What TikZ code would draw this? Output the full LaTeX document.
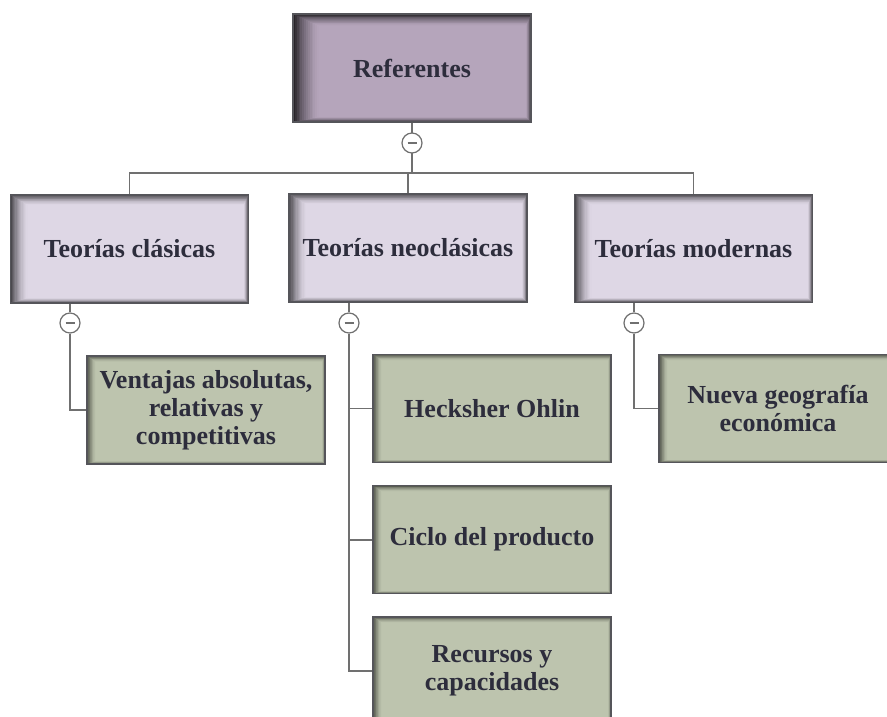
\documentclass[tikz,border=0pt]{standalone}
\usepackage{fontspec}
\setmainfont{Liberation Serif}
\usetikzlibrary{positioning}
\definecolor{reffill}{RGB}{181,165,187}
\definecolor{theofill}{RGB}{222,215,229}
\definecolor{topfill}{RGB}{189,196,174}
\definecolor{boxline}{RGB}{85,85,90}
\definecolor{linegray}{RGB}{112,112,112}
\definecolor{txt}{RGB}{45,45,60}
% inner shadow: fill colour, left depth, top depth, right/bottom depth, darkness
\newcommand{\boxshade}[5]{%
  \foreach \i in {0,...,14}{%
    \pgfmathsetmacro\k{#5*(1-\i/14)^1.6}%
    \fill[black!\k!#1] ([xshift=\i*#2/14,yshift=-\i*#3/14]path picture bounding box.north west)
      rectangle ([xshift=-\i*#4/14,yshift=\i*#4/14]path picture bounding box.south east);
  }}
\tikzset{
  boxbase/.style={draw=boxline,line width=1.2pt,minimum width=238pt,minimum height=108pt,inner sep=0pt,align=center,text=txt,font=\fontsize{26}{28}\selectfont\bfseries},
  rootbox/.style={boxbase,fill=reffill,path picture={\boxshade{reffill}{26}{12}{5}{78}}},
  theorybox/.style={boxbase,fill=theofill,path picture={\boxshade{theofill}{17}{10}{5}{66}}},
  topicbox/.style={boxbase,fill=topfill,path picture={\boxshade{topfill}{9}{6}{3}{60}}},
  toggle/.style={circle,draw=linegray,fill=white,line width=1.2pt,minimum size=20pt,inner sep=0pt,
    path picture={\draw[linegray,line width=1.6pt] ([xshift=-4.5pt]path picture bounding box.center) -- ([xshift=4.5pt]path picture bounding box.center);}},
  link/.style={draw=linegray,line width=1.6pt}
}
\begin{document}
\begin{tikzpicture}[x=1pt,y=-1pt]
  \useasboundingbox (0,0) rectangle (887,717);
  \clip (0,0) rectangle (887,717);
  \node[rootbox] (ref) at (412,68) {Referentes};
  \node[theorybox] (clas) at (129.5,249) {Teorías clásicas};
  \node[theorybox] (neo) at (408,248) {Teorías neoclásicas};
  \node[theorybox] (mod) at (693.5,248.5) {Teorías modernas};
  \node[topicbox] (vent) at (206,410) {Ventajas absolutas,\\ relativas y\\ competitivas};
  \node[topicbox] (heck) at (492,408.5) {Hecksher Ohlin};
  \node[topicbox,below=22pt of heck] (ciclo) {Ciclo del producto};
  \node[topicbox,below=22pt of ciclo] (recur) {Recursos y\\ capacidades};
  \node[topicbox] (nueva) at (778,408.5) {Nueva geografía\\ económica};
  \coordinate (bus) at (412,173);
  % connectors
  \draw[link] (ref.south) -- (bus);
  \draw[link] (clas.north) |- (bus) -| (mod.north);
  \draw[link] (neo.north) -- (neo.north |- bus);
  \node[toggle] (t0) at (412,143) {};
  \node[toggle] (t1) at (70,323) {};
  \node[toggle] (t2) at (349,323) {};
  \node[toggle] (t3) at (634,323) {};
  \draw[link] (t1 |- clas.south) -- (t1.north);
  \draw[link] (t2 |- neo.south) -- (t2.north);
  \draw[link] (t3 |- mod.south) -- (t3.north);
  \draw[link] (t1.south) |- (vent.west);
  \draw[link] (t2.south) |- (heck.west);
  \draw[link] (t2.south) |- (ciclo.west);
  \draw[link] (t2.south) |- (recur.west);
  \draw[link] (t3.south) |- (nueva.west);
\end{tikzpicture}
\end{document}
